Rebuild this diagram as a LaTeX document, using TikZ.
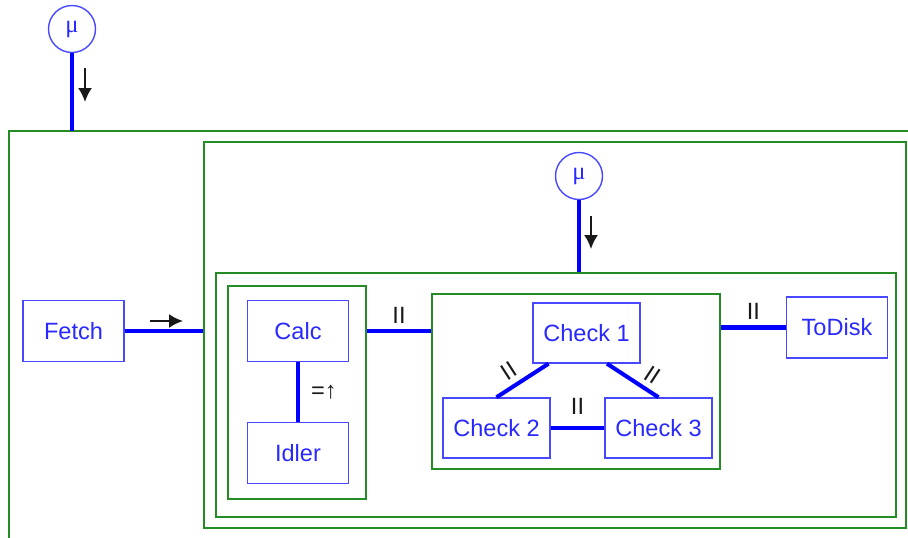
\documentclass[tikz,border=0pt]{standalone}
\usepackage{fontspec}
\setmainfont{Liberation Sans}
\newfontfamily\mufont{Liberation Serif}
\usetikzlibrary{arrows.meta}
\definecolor{procblue}{RGB}{72,72,255}
\definecolor{textblue}{RGB}{40,40,255}
\definecolor{linkblue}{RGB}{0,0,255}
\definecolor{framegreen}{RGB}{36,140,36}
\tikzset{
  proc/.style={draw=procblue, line width=0.8pt, text=textblue, minimum width=2.02cm, minimum height=1.22cm, inner sep=0pt, font=\fontsize{13.4}{16}\selectfont},
  chk/.style={proc, minimum width=2.14cm, minimum height=1.2cm},
  repl/.style={circle, draw=procblue, line width=0.8pt, text=textblue, minimum size=0.94cm, inner sep=0pt, font=\mufont\fontsize{14}{16}\selectfont},
  frame/.style={draw=framegreen, line width=1.1pt, inner sep=0pt},
  link/.style={draw=linkblue, line width=2.3pt},
  op/.style={font=\fontsize{13.4}{16}\selectfont, text=black!90},
  flow/.style={-{Latex[length=2.8mm,width=2.8mm]}, line width=1.1pt, black!90}
}
\begin{document}
\begin{tikzpicture}[x=0.02cm,y=-0.02cm]
\useasboundingbox (0,0) rectangle (908,537);
% Frames, outermost first
\draw[frame] (9,131) rectangle (940,570);
\node[frame, minimum width=14.04cm, minimum height=7.72cm] (pipe) at (555,335) {};
\node[frame, minimum width=13.6cm, minimum height=4.88cm] (stage) at (556,395) {};
\node[frame, minimum width=2.76cm, minimum height=4.26cm] (calcgrp) at (297,392.5) {};
\node[frame, minimum width=5.76cm, minimum height=3.5cm] (checkgrp) at (576,381.5) {};
% Replication
\node[repl] (mutop) at (72,29) {μ};
\coordinate (outertop) at (72,131);
\node[repl] (muinner) at (579,176) {μ};
% Processes
\node[proc] (fetch) at (73.5,331) {Fetch};
\node[proc] (calc) at (298,331) {Calc};
\node[proc] (idler) at (298,453) {Idler};
\node[chk] (check1) at (586.5,333) {Check 1};
\node[chk] (check2) at (496.5,428) {Check 2};
\node[chk] (check3) at (658.5,428) {Check 3};
\node[proc] (todisk) at (837,327.5) {ToDisk};
% Links
\draw[link] (mutop) -- (outertop);
\draw[link] (muinner) -- (muinner |- stage.north);
\draw[link] (fetch) -- (fetch -| pipe.west);
\draw[link] (calc -| calcgrp.east) -- node[op, above] {II} (calc -| checkgrp.west);
\draw[link] (calc) -- node[op, right=3pt] {=↑} (idler);
\draw[link] ([xshift=-0.76cm]check1.south) -- node[op, inner sep=1pt, above=2pt, sloped, pos=0.6] {II} (check2.north);
\draw[link] ([xshift=0.41cm]check1.south) -- node[op, inner sep=1pt, above=2pt, sloped, pos=0.72] {II} (check3.north);
\draw[link] (check2) -- node[op, above=3pt] {II} (check3);
\draw[link] (todisk -| checkgrp.east) -- node[op, above] {II} (todisk);
% Direction marks
\draw[flow] (85,68) -- (85,102);
\draw[flow] (591,216) -- (591,249);
\draw[flow] (150,321) -- (183,321);
\end{tikzpicture}
\end{document}
